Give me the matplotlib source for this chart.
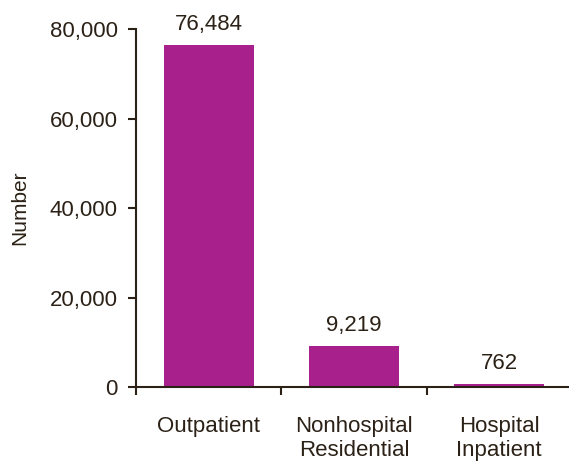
import matplotlib
matplotlib.use("Agg")
import matplotlib.pyplot as plt
from matplotlib.ticker import FuncFormatter

categories = ["Outpatient", "Nonhospital\nResidential", "Hospital\nInpatient"]
values = [76484, 9219, 762]
yticks = [0, 20000, 40000, 60000, 80000]

BAR = "#A7208C"
INK = "#2B2116"

plt.rcParams["font.family"] = ["Liberation Sans", "DejaVu Sans"]

fig = plt.figure(figsize=(5.69, 4.63), dpi=100)
ax = fig.add_axes([0.239, 0.164, 0.761, 0.773])

x = list(range(len(categories)))
ax.bar(x, values, width=0.62, color=BAR, zorder=2)

# value labels above bars
for xi, v in zip(x, values):
    ax.annotate(f"{v:,}", (xi, v), xytext=(0, 7), textcoords="offset points",
                ha="center", va="bottom", fontsize=16, color=INK)

ax.set_xlim(-0.5, 2.48)
ax.set_ylim(0, 80000)
ax.set_yticks(yticks)
ax.yaxis.set_major_formatter(FuncFormatter(lambda v, p: f"{int(v):,}"))

# labels at centres, tick marks between categories
ax.set_xticks(x)
ax.set_xticklabels(categories, linespacing=1.15)
ax.set_xticks([-0.5, 0.5, 1.5], minor=True)
ax.tick_params(axis="x", which="major", length=0, pad=21, labelsize=16,
               labelcolor=INK)
ax.tick_params(axis="x", which="minor", length=6, width=1.5, color=INK,
               direction="out")
ax.tick_params(axis="y", length=6, width=1.5, color=INK, pad=7,
               labelsize=16, labelcolor=INK)

ax.set_ylabel("Number", fontsize=15, color=INK, labelpad=15)

for s in ("top", "right"):
    ax.spines[s].set_visible(False)
for s in ("left", "bottom"):
    ax.spines[s].set_color(INK)
    ax.spines[s].set_linewidth(1.5)

fig.savefig("out.png", dpi=100)
